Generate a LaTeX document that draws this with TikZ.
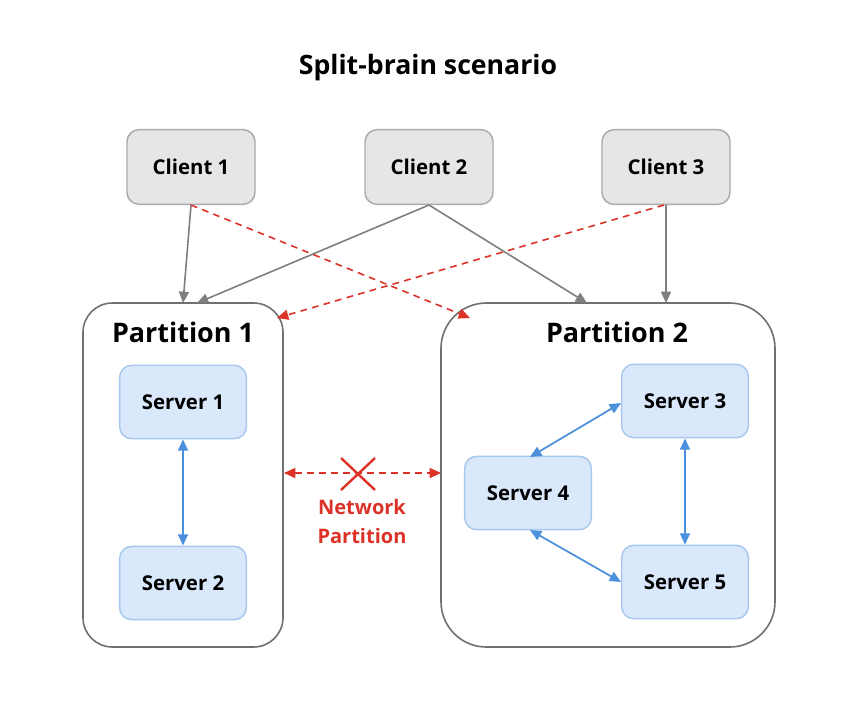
\documentclass[tikz,border=0pt]{standalone}
\usepackage{fontspec}
\setmainfont{Open Sans}
\usetikzlibrary{arrows.meta}
\definecolor{cfill}{HTML}{E6E6E6}
\definecolor{cdraw}{HTML}{ABABAB}
\definecolor{sfill}{HTML}{DAE8FC}
\definecolor{sdraw}{HTML}{A8C8EE}
\definecolor{pdraw}{HTML}{707070}
\definecolor{garrow}{HTML}{7F7F7F}
\definecolor{barrow}{HTML}{4A90DC}
\definecolor{rarrow}{HTML}{DC3228}
\tikzset{
  tip/.tip={Triangle[length=8.5pt,width=7.5pt]},
  client/.style={draw=cdraw, fill=cfill, line width=1.1pt, rounded corners=9pt, minimum width=96pt, minimum height=56pt, font=\bfseries\fontsize{15.3}{17}\selectfont, inner sep=0pt},
  server/.style={draw=sdraw, fill=sfill, line width=1.1pt, rounded corners=9pt, minimum width=95pt, minimum height=55pt, font=\bfseries\fontsize{15.3}{17}\selectfont, inner sep=0pt},
  part/.style={draw=pdraw, line width=1.2pt, inner sep=0pt},
  ptitle/.style={font=\bfseries\fontsize{20.2}{23}\selectfont, inner sep=0pt},
  garr/.style={draw=garrow, line width=1.2pt, -tip},
  rarr/.style={draw=rarrow, line width=1.2pt, dash pattern=on 5pt off 4pt, -tip},
  rdarr/.style={draw=rarrow, line width=1.2pt, dash pattern=on 5pt off 4pt, tip-tip},
  barr/.style={draw=barrow, line width=1.3pt, tip-tip},
}
\begin{document}
\begin{tikzpicture}[x=0.75pt,y=-0.75pt]
\useasboundingbox[fill=white] (0,0) rectangle (856,708);
\node[font=\bfseries\fontsize{20}{23}\selectfont] (title) at (428,68) {Split-brain scenario};
% partitions
\node[part, rounded corners=22pt, minimum width=150pt, minimum height=258pt] (p1) at (183,475) {};
\node[part, rounded corners=34pt, minimum width=250.5pt, minimum height=258pt] (p2) at (608,475) {};
\node[ptitle] (p1t) at (183,332) {Partition 1};
\node[ptitle] (p2t) at (617,332) {Partition 2};
% clients
\node[client] (c1) at (191,167) {Client 1};
\node[client] (c2) at (429,167) {Client 2};
\node[client] (c3) at (666,167) {Client 3};
% servers
\node[server] (s1) at (183,402) {Server 1};
\node[server] (s2) at (183,583) {Server 2};
\node[server] (s3) at (685,401) {Server 3};
\node[server] (s4) at (528,493) {Server 4};
\node[server] (s5) at (685,582) {Server 5};
% coordinates on partitions
\coordinate (p1a) at (183,303);
\coordinate (p1b) at (197,303);
\coordinate (p2a) at (587,303);
\coordinate (p2b) at (666,303);
\coordinate (p1c) at (277,318);
\coordinate (p2c) at (470,318);
\coordinate (c1b) at (191,205);
\coordinate (c2b) at (429,205);
\coordinate (c3b) at (666,205);
\coordinate (c3r) at (664,205);
% gray arrows
\draw[garr] (c1b) -- (p1a);
\draw[garr] (c2b) -- (p1b);
\draw[garr] (c2b) -- (p2a);
\draw[garr] (c3b) -- (p2b);
% red dashed
\draw[rarr] (c1b) -- (p2c);
\draw[rarr] (c3r) -- (p1c);
% network partition
\coordinate (np1) at (284,473);
\coordinate (np2) at (441,473);
\draw[rdarr] (np1) -- (np2);
\node (x) at (358,474) {};
\draw[draw=rarrow, line width=1.8pt] (341,458) -- (375,490) (375,458) -- (341,490);
\node[font=\bfseries\fontsize{15}{18}\selectfont, text=rarrow, align=center, inner sep=0pt] (npt) at (362,521.5) {Network\\[3.75pt]Partition};
% blue arrows
\draw[barr] (s1.south) -- (s2.north);
\draw[barr] (s3.south) -- (s5.north);
\coordinate (s4t) at (530,457);
\coordinate (s4b) at (530,530);
\coordinate (s3l) at (621,403);
\coordinate (s5l) at (621,582);
\draw[barr] (s4t) -- (s3l);
\draw[barr] (s4b) -- (s5l);
\end{tikzpicture}
\end{document}
